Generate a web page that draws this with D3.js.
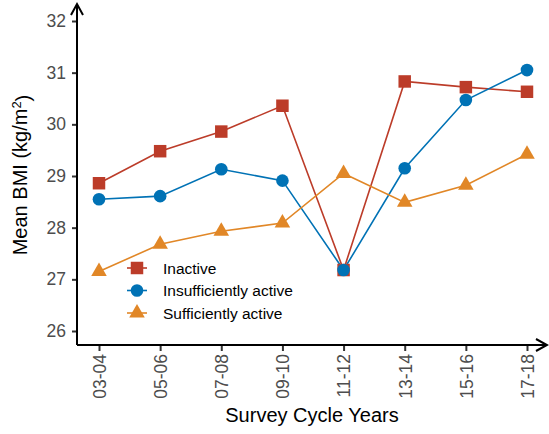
<!DOCTYPE html>
<meta charset="utf-8" />
<style>
  body { margin: 0; background: white; }
  text { font-family: "Liberation Sans", Arial, sans-serif; }
</style>
<body>
  <svg id="chart" width="549" height="434"></svg>
</body>
<script src="https://d3js.org/d3.v7.min.js"></script>
<script>
  // survey cycles on the x axis
  const cycles = ["03-04", "05-06", "07-08", "09-10", "11-12", "13-14", "15-16", "17-18"];

  // mean BMI per activity group
  const inactive = [28.86, 29.48, 29.86, 30.36, 27.18, 30.83, 30.72, 30.63];
  const insufficient = [28.55, 28.61, 29.13, 28.91, 27.18, 29.15, 30.47, 31.05];
  const sufficient = [27.15, 27.68, 27.93, 28.09, 29.05, 28.49, 28.82, 29.42];

  const seriesNames = ["Inactive", "Insufficiently active", "Sufficiently active"];
  const yTicks = [26, 27, 28, 29, 30, 31, 32];

  const svg = d3.select("#chart");

  // axis frame
  const axisLeftX = 77, axisBottomY = 345, axisTopY = 4, axisRightX = 547;

  const x = d3.scalePoint().domain(cycles).range([99, 527]);
  const y = d3.scaleLinear().domain([26, 32]).range([331, 21]);

  const colors = ["#BC3C29", "#0072B5", "#E18727"];
  const symbols = [d3.symbolSquare, d3.symbolCircle, d3.symbolTriangle];
  const sizes = [156, 125, 105];

  const series = [inactive, insufficient, sufficient].map((vals, i) => ({
    name: seriesNames[i],
    color: colors[i],
    symbol: symbols[i],
    size: sizes[i],
    values: vals.map((v, j) => ({ cycle: cycles[j], value: v }))
  }));

  // y axis ticks and labels
  const yAxis = svg.append("g").attr("transform", `translate(${axisLeftX},0)`)
    .call(d3.axisLeft(y).tickValues(yTicks).tickSize(5).tickPadding(6).tickFormat(d3.format("d")));
  yAxis.select(".domain").remove();
  yAxis.selectAll(".tick line").attr("stroke", "#333").attr("stroke-width", 2);
  yAxis.selectAll(".tick text").attr("fill", "#4D4D4D").style("font-size", "17.5px")
    .style("font-family", "'Liberation Sans', Arial, sans-serif");

  // x axis ticks and rotated labels
  const xAxis = svg.append("g").attr("transform", `translate(0,${axisBottomY})`)
    .call(d3.axisBottom(x).tickSize(6).tickPadding(4));
  xAxis.select(".domain").remove();
  xAxis.selectAll(".tick line").attr("stroke", "#333").attr("stroke-width", 2);
  xAxis.selectAll(".tick text")
    .attr("fill", "#4D4D4D")
    .style("font-size", "17.5px")
    .style("font-family", "'Liberation Sans', Arial, sans-serif")
    .attr("transform", "rotate(-90)")
    .attr("text-anchor", "end")
    .attr("x", -9)
    .attr("y", 0)
    .attr("dy", "0.36em");

  // axis lines with arrows
  const frame = svg.append("g").attr("fill", "none").attr("stroke", "black").attr("stroke-width", 2);
  frame.append("path").attr("d", `M${axisLeftX},${axisBottomY}V${axisTopY}`);
  frame.append("path").attr("d", `M${axisLeftX},${axisBottomY}H${axisRightX}`);
  frame.append("path").attr("d", `M${axisLeftX - 6},${axisTopY + 11}L${axisLeftX},${axisTopY}L${axisLeftX + 6},${axisTopY + 11}`);
  frame.append("path").attr("d", `M${axisRightX - 11},${axisBottomY - 6}L${axisRightX},${axisBottomY}L${axisRightX - 11},${axisBottomY + 6}`);

  // lines
  const line = d3.line().x(d => x(d.cycle)).y(d => y(d.value));
  series.forEach(s => {
    svg.append("path")
      .datum(s.values)
      .attr("fill", "none")
      .attr("stroke", s.color)
      .attr("stroke-width", 1.6)
      .attr("d", line);
  });

  // markers
  series.forEach(s => {
    svg.append("g").selectAll("path")
      .data(s.values)
      .join("path")
      .attr("transform", d => `translate(${x(d.cycle)},${y(d.value)})`)
      .attr("d", d3.symbol().type(s.symbol).size(s.size))
      .attr("fill", s.color);
  });

  // legend
  const legend = svg.append("g").attr("transform", "translate(137,268)");
  series.forEach((s, i) => {
    const row = legend.append("g").attr("transform", `translate(0,${i * 22.5})`);
    row.append("line").attr("x1", -10).attr("x2", 10).attr("stroke", s.color).attr("stroke-width", 1.6);
    row.append("path").attr("d", d3.symbol().type(s.symbol).size(s.size)).attr("fill", s.color);
    row.append("text").attr("x", 26).attr("dy", "0.36em").style("font-size", "15.5px").attr("fill", "black").text(s.name);
  });

  // axis titles
  svg.append("text")
    .attr("x", 312).attr("y", 422)
    .attr("text-anchor", "middle")
    .style("font-size", "20px")
    .text("Survey Cycle Years");

  const yTitle = svg.append("text")
    .attr("transform", "translate(27,175) rotate(-90)")
    .attr("text-anchor", "middle")
    .style("font-size", "20px");
  yTitle.append("tspan").text("Mean BMI (kg/m");
  yTitle.append("tspan").attr("dy", "-0.45em").style("font-size", "13px").text("2");
  yTitle.append("tspan").attr("dy", "0.45em").text(")");
</script>
